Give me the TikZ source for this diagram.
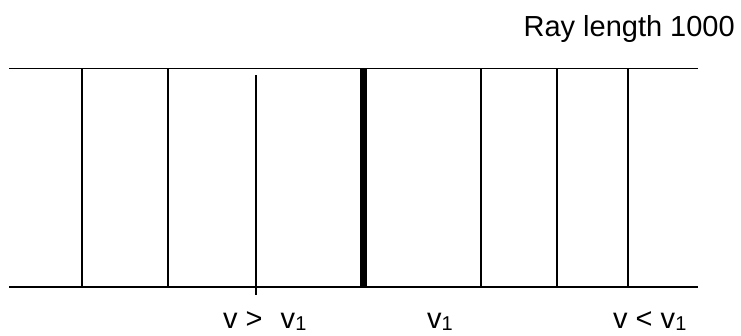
\documentclass[tikz,border=0pt]{standalone}
\usepackage{fontspec}
\setmainfont{Liberation Sans}
\usetikzlibrary{math}
\newcommand{\vsub}[1]{\raisebox{-2pt}{\fontsize{20}{24}\selectfont #1}}

\begin{document}
\begin{tikzpicture}[x=1pt,y=1pt,
  lbl/.style={font=\fontsize{29}{34}\selectfont, inner sep=0pt}]
\tikzmath{
\xl=9;
\xr=698;
\yt=-68.5;
\yb=-287;
\yv=-328;
}
\useasboundingbox (0,0) rectangle (741,-335);
%ray tube
\draw[line width = 1.8pt] (\xl,\yt) -- (\xr,\yt);
\draw[line width = 1.8pt] (\xl,\yb) -- (\xr,\yb);

%wavefronts
\foreach \x in {82,168,481,557,628}
  \draw[line width = 1.8pt] (\x,\yt) -- (\x,\yb);
\draw[line width = 1.8pt] (256,-75) -- (256,-295);
\draw[line width = 6.5pt] (363.5,\yt) -- (363.5,\yb);

%labels
\node[lbl, anchor=base east] (title) at (735,-36) {Ray length 1000};
\node[lbl, anchor=base west] (fast) at (223,\yv) {v >\hspace{10pt} v\vsub{1}};
\node[lbl, anchor=base west] (mid) at (427,\yv) {v\vsub{1}};
\node[lbl, anchor=base west] (slow) at (613,\yv) {v < v\vsub{1}};
\end{tikzpicture}
\end{document}
